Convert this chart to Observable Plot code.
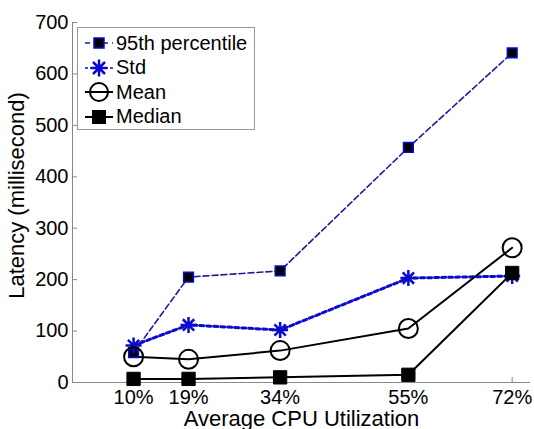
<!DOCTYPE html>
<html><head><meta charset="utf-8">
<script src="https://cdn.jsdelivr.net/npm/d3@7"></script>
<script src="https://cdn.jsdelivr.net/npm/@observablehq/plot@0.6"></script>
<style>
body{margin:0;background:#fff;font-family:"Liberation Sans",Arial,sans-serif;}
#wrap{position:relative;width:534px;height:429px;overflow:hidden;}
#legend{position:absolute;left:77px;top:27px;width:178px;height:103px;border:1px solid #999;background:#fff;box-sizing:border-box;font-size:20px;}
#legend div{position:absolute;left:4px;height:24px;display:flex;align-items:center;}
#legend svg{margin-right:0px;}
</style></head>
<body><div id="wrap"><div id="chart"></div>
<div id="legend"></div></div>
<script>
const util = [10, 19, 34, 55, 72];
const utilLabels = ["10%", "19%", "34%", "55%", "72%"];
const p95 = [58, 205, 217, 457, 641];
const stdv = [72, 112, 102, 203, 207];
const meanv = [50, 45, 62, 105, 262];
const median = [7, 7, 10, 15, 213];
const yTicks = [0, 100, 200, 300, 400, 500, 600, 700];

const asterisk = {
  draw(ctx, size) {
    const r = Math.sqrt(size / Math.PI);
    const d = r * Math.SQRT1_2;
    ctx.moveTo(-r, 0); ctx.lineTo(r, 0);
    ctx.moveTo(0, -r); ctx.lineTo(0, r);
    ctx.moveTo(-d, -d); ctx.lineTo(d, d);
    ctx.moveTo(-d, d); ctx.lineTo(d, -d);
  }
};

const rows = (vals) => util.map((u, i) => ({u, v: vals[i]}));
const blue = "#0a0ad0";
const navy = "#1c1c9c";
const none = () => "";

const chart = Plot.plot({
  width: 534, height: 429,
  marginLeft: 72, marginRight: 4, marginTop: 22, marginBottom: 47,
  style: {fontFamily: "'Liberation Sans', Arial, sans-serif", fontSize: "20px", color: "#000", background: "#fff", overflow: "visible"},
  x: {domain: [0, 75], label: null},
  y: {domain: [0, 700], label: null},
  marks: [
    Plot.ruleX([0], {stroke: "#888", strokeWidth: 1}),
    Plot.ruleY([0], {stroke: "#888", strokeWidth: 1}),
    Plot.axisY({ticks: yTicks, tickSize: 0, tickPadding: 4, fontSize: 20, label: null}),
    Plot.axisY({ticks: yTicks, tickSize: -5, tickFormat: none, stroke: "#888", label: null}),
    Plot.axisX({ticks: util, tickSize: 0, tickPadding: 7, fontSize: 20, tickFormat: (d) => utilLabels[util.indexOf(d)], label: null}),
    Plot.axisX({ticks: util, tickSize: -5, tickFormat: none, stroke: "#888", label: null}),
    Plot.line(rows(p95), {x: "u", y: "v", stroke: navy, strokeWidth: 1.6, strokeDasharray: "6,3"}),
    Plot.line(rows(stdv), {x: "u", y: "v", stroke: blue, strokeWidth: 3, strokeDasharray: "4,3"}),
    Plot.line(rows(meanv), {x: "u", y: "v", stroke: "#000", strokeWidth: 2}),
    Plot.line(rows(median), {x: "u", y: "v", stroke: "#000", strokeWidth: 2}),
    Plot.dot(rows(p95), {x: "u", y: "v", symbol: "square", r: 5.5, fill: "#000", stroke: blue, strokeWidth: 1.5}),
    Plot.dot(rows(stdv), {x: "u", y: "v", symbol: asterisk, r: 8, stroke: blue, strokeWidth: 2.5}),
    Plot.dot(rows(meanv), {x: "u", y: "v", symbol: "circle", r: 9.5, fill: "none", stroke: "#000", strokeWidth: 2}),
    Plot.dot(rows(median), {x: "u", y: "v", symbol: "square", r: 7.5, fill: "#000", stroke: "#000", strokeWidth: 1}),
    Plot.text(["Average CPU Utilization"], {frameAnchor: "bottom", lineAnchor: "middle", textAnchor: "middle", dy: 36, fontSize: 22}),
    Plot.text(["Latency (millisecond)"], {frameAnchor: "left", lineAnchor: "middle", textAnchor: "middle", dx: -56, dy: -7, rotate: -90, fontSize: 22})
  ]
});
document.getElementById("chart").appendChild(chart);

// legend
const legendItems = [
  {label: "95th percentile", kind: "p95"},
  {label: "Std", kind: "std"},
  {label: "Mean", kind: "mean"},
  {label: "Median", kind: "median"}
];
const lg = d3.select("#legend");
legendItems.forEach((it, i) => {
  const row = lg.append("div").style("top", (3 + i * 24.5) + "px");
  const s = row.append("svg").attr("width", 34).attr("height", 24);
  const cx = 17;
  if (it.kind === "p95") {
    s.append("line").attr("x1", 3).attr("x2", 31).attr("y1", 12).attr("y2", 12).attr("stroke", navy).attr("stroke-width", 1.6).attr("stroke-dasharray", "5,4");
    s.append("rect").attr("x", cx - 5).attr("y", 7).attr("width", 10).attr("height", 10).attr("fill", "#000").attr("stroke", blue).attr("stroke-width", 1.5);
  } else if (it.kind === "std") {
    s.append("line").attr("x1", 3).attr("x2", 31).attr("y1", 12).attr("y2", 12).attr("stroke", blue).attr("stroke-width", 1.5).attr("stroke-dasharray", "3,2");
    s.append("path").attr("transform", `translate(${cx},12)`).attr("d", d3.symbol(asterisk, Math.PI * 72)()).attr("stroke", blue).attr("stroke-width", 2.5).attr("fill", "none");
  } else if (it.kind === "mean") {
    s.append("line").attr("x1", 3).attr("x2", 31).attr("y1", 12).attr("y2", 12).attr("stroke", "#000").attr("stroke-width", 2);
    s.append("circle").attr("cx", cx).attr("cy", 12).attr("r", 9).attr("fill", "none").attr("stroke", "#000").attr("stroke-width", 2);
  } else {
    s.append("line").attr("x1", 3).attr("x2", 31).attr("y1", 12).attr("y2", 12).attr("stroke", "#000").attr("stroke-width", 2);
    s.append("rect").attr("x", cx - 7).attr("y", 5).attr("width", 14).attr("height", 14).attr("fill", "#000");
  }
  row.append("span").text(it.label);
});
</script></body></html>
